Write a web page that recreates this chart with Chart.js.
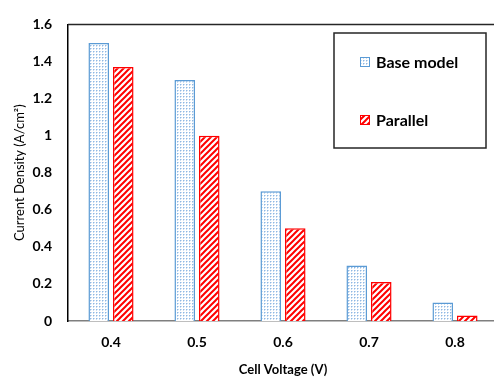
<!DOCTYPE html>
<html>
<head>
<meta charset="utf-8">
<script src="https://cdn.jsdelivr.net/npm/chart.js@4/dist/chart.umd.min.js"></script>
<style>
  html, body { margin: 0; padding: 0; background: #fff; overflow: hidden; }
  #wrap { width: 500px; height: 383px; }
</style>
</head>
<body>
<div id="wrap"><canvas id="c" width="500" height="383"></canvas></div>
<script>
// Cell voltage categories and current density for each configuration
const voltages = ['0.4', '0.5', '0.6', '0.7', '0.8'];
const baseModel = [1.5, 1.3, 0.7, 0.3, 0.1];
const parallel = [1.37, 1.0, 0.5, 0.21, 0.03];
const seriesNames = ['Base model', 'Parallel'];
const yTicks = [0, 0.2, 0.4, 0.6, 0.8, 1, 1.2, 1.4, 1.6];
const yTickLabels = ['0', '0.2', '0.4', '0.6', '0.8', '1', '1.2', '1.4', '1.6'];

const FONT = 'Lato, "Open Sans", sans-serif';
const BLUE = '#5B9BD5';
const RED = '#FF0000';

// Fine dotted fill for the base model bars
function dotPattern() {
  const t = document.createElement('canvas');
  t.width = 3; t.height = 3;
  const g = t.getContext('2d');
  g.fillStyle = '#ffffff';
  g.fillRect(0, 0, 3, 3);
  g.fillStyle = '#8FB8E3';
  g.fillRect(0, 0, 1, 1);
  g.fillStyle = '#C9DDF2';
  g.fillRect(1, 0, 1, 1);
  g.fillRect(0, 1, 1, 1);
  return g.createPattern(t, 'repeat');
}

// Diagonal stripes for the parallel bars
function stripePattern() {
  const s = 6;
  const t = document.createElement('canvas');
  t.width = s; t.height = s;
  const g = t.getContext('2d');
  g.fillStyle = '#ffffff';
  g.fillRect(0, 0, s, s);
  g.strokeStyle = RED;
  g.lineWidth = 2;
  g.beginPath();
  g.moveTo(-1, s + 1); g.lineTo(s + 1, -1);
  g.moveTo(-1, 1); g.lineTo(1, -1);
  g.moveTo(s - 1, s + 1); g.lineTo(s + 1, s - 1);
  g.stroke();
  return g.createPattern(t, 'repeat');
}

const fills = [dotPattern(), stripePattern()];

// Frame lines and in-plot legend box
const framePlugin = {
  id: 'frameAndLegend',
  afterDraw(chart) {
    const { ctx, chartArea: a } = chart;
    ctx.save();
    // top border
    ctx.strokeStyle = '#262626';
    ctx.lineWidth = 1.5;
    ctx.beginPath();
    ctx.moveTo(a.left, a.top);
    ctx.lineTo(a.right, a.top);
    ctx.stroke();

    // legend box
    const bx = 334, by = 33, bw = 152, bh = 115;
    ctx.strokeStyle = '#262626';
    ctx.lineWidth = 1.5;
    ctx.strokeRect(bx, by, bw, bh);
    const rows = [62, 120];
    chart.data.datasets.forEach((ds, i) => {
      const y = rows[i];
      ctx.fillStyle = ds.backgroundColor;
      ctx.fillRect(360, y - 5, 10, 10);
      ctx.strokeStyle = ds.borderColor;
      ctx.lineWidth = 1;
      ctx.strokeRect(360.5, y - 4.5, 9, 9);
      ctx.fillStyle = '#000';
      ctx.font = 'bold 16px ' + FONT;
      ctx.textBaseline = 'middle';
      ctx.textAlign = 'left';
      ctx.fillText(ds.label, 376, y + 1);
    });
    ctx.restore();
  }
};

new Chart(document.getElementById('c'), {
  type: 'bar',
  data: {
    labels: voltages,
    datasets: [
      { label: seriesNames[0], data: baseModel, backgroundColor: fills[0], borderColor: BLUE, borderWidth: 1.5 },
      { label: seriesNames[1], data: parallel, backgroundColor: fills[1], borderColor: RED, borderWidth: 1.5 }
    ]
  },
  options: {
    responsive: false,
    animation: false,
    devicePixelRatio: 1,
    layout: { padding: { left: 0, right: 2, top: 16, bottom: 0 } },
    plugins: { legend: { display: false }, tooltip: { enabled: false } },
    datasets: { bar: { categoryPercentage: 0.57, barPercentage: 0.84 } },
    scales: {
      x: {
        grid: { display: false, drawTicks: false },
        border: { color: '#7F7F7F', width: 1.5 },
        ticks: { color: '#000', font: { family: FONT, size: 14, weight: 'bold' }, padding: 13 },
        title: { display: true, text: 'Cell Voltage (V)', color: '#000', font: { family: FONT, size: 13, weight: 'bold' }, padding: { top: 5, bottom: 5 } },
        afterFit(scale) { scale.height = 62; }
      },
      y: {
        min: 0, max: 1.6,
        afterBuildTicks(scale) { scale.ticks = yTicks.map(v => ({ value: v })); },
        grid: { display: false, drawTicks: false },
        border: { color: '#000', width: 1.5 },
        ticks: {
          color: '#000',
          font: { family: FONT, size: 14, weight: 'bold' },
          padding: 16,
          callback: (v) => yTickLabels[yTicks.indexOf(v)] ?? ''
        },
        title: { display: true, text: 'Current Density (A/cm²)', color: '#000', font: { family: FONT, size: 13 }, padding: { top: 12, bottom: 0 } },
        afterFit(scale) { scale.width = 68; }
      }
    }
  },
  plugins: [framePlugin]
});
</script>
</body>
</html>
